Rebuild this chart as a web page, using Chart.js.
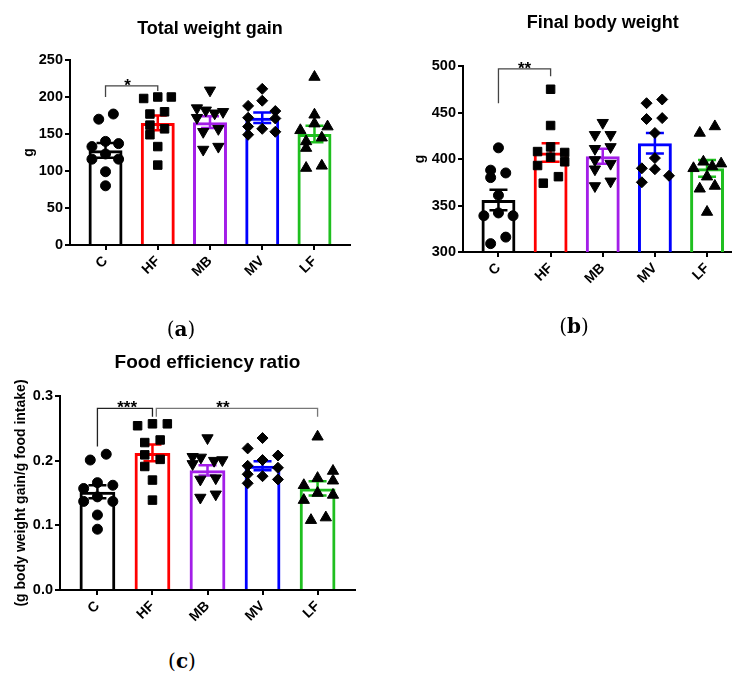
<!DOCTYPE html>
<html>
<head>
<meta charset="utf-8">
<script src="https://cdn.jsdelivr.net/npm/chart.js@4.4.1/dist/chart.umd.min.js"></script>
<style>
  html, body { margin:0; padding:0; background:#fff; overflow:hidden; }
  #page { position:relative; width:732px; height:677px; overflow:hidden; }
  #page canvas { position:absolute; }
  .cap { position:absolute; font-family:"DejaVu Serif", serif; font-size:20px; color:#000; transform:translate(-50%,-50%); white-space:nowrap; }
</style>
</head>
<body>
<div id="page">
  <canvas id="gainChart" width="366" height="300" style="left:0;top:0"></canvas>
  <canvas id="weightChart" width="380" height="300" style="left:370px;top:0"></canvas>
  <canvas id="ferChart" width="366" height="300" style="left:0;top:330px"></canvas>
  <div class="cap" style="left:181px;top:329px">(<b>a</b>)</div>
  <div class="cap" style="left:574px;top:326px">(<b>b</b>)</div>
  <div class="cap" style="left:182px;top:661px">(<b>c</b>)</div>
</div>

<script>
// ---------- groups ----------
const groups = ["C", "HF", "MB", "MV", "LF"];

// ---------- (a) total weight gain, g ----------
const gainTicks = [0, 50, 100, 150, 200, 250];
const gainMean = [128, 165, 166, 172, 150];
const gainSem = [10, 10, 8, 7, 11];
const gainPoints = [
  [170, 177, 133, 140, 137, 123, 116, 116, 99, 80],
  [198, 200, 200, 177, 180, 162, 157, 149, 133, 108],
  [209, 185, 182, 178, 180, 172, 153, 157, 129, 133],
  [211, 195, 188, 181, 172, 171, 160, 157, 149, 153],
  [227, 176, 164, 155, 160, 140, 145, 131, 104, 107]
];
// horizontal spread of the dots, in category units
const gainSpread = [
  [-0.13, 0.15, -0.26, 0, 0.25, 0, -0.26, 0.25, 0, 0],
  [-0.27, 0, 0.26, -0.15, 0.13, -0.15, 0.13, -0.15, 0, 0],
  [0, -0.25, -0.08, 0.09, 0.25, -0.25, -0.13, 0.16, -0.13, 0.16],
  [0, 0, -0.27, 0.25, -0.27, 0.25, -0.27, 0, -0.27, 0.25],
  [0, 0, 0, -0.27, 0.25, -0.16, 0.14, -0.16, -0.16, 0.14]
];
const gainSig = [{from: 0, to: 1, y: 215, yFrom: 200, yTo: 208, text: "*", at: 0.42, color: "#444"}];

// ---------- (b) final body weight, g ----------
const weightTicks = [300, 350, 400, 450, 500];
const weightMean = [356, 407, 403, 417, 390];
const weightSem = [11, 10, 8, 11, 9];
const weightPoints = [
  [412, 388, 380, 385, 361, 342, 339, 339, 316, 309],
  [475, 436, 413, 408, 407, 402, 397, 393, 381, 374],
  [439, 426, 426, 411, 413, 399, 395, 389, 371, 376],
  [460, 464, 443, 444, 428, 401, 390, 389, 382, 375],
  [428, 435, 390, 397, 392, 395, 381, 368, 371, 343]
];
const weightSpread = [
  [0, -0.15, -0.15, 0.14, 0, 0, -0.28, 0.28, 0.14, -0.15],
  [0, 0, 0, -0.25, 0.27, 0, 0.27, -0.25, 0.15, -0.14],
  [0, -0.15, 0.15, -0.15, 0.15, -0.15, 0.15, -0.15, -0.15, 0.15],
  [-0.16, 0.14, -0.16, 0.14, 0, 0, -0.25, 0, 0.27, -0.25],
  [-0.14, 0.15, -0.26, -0.07, 0.1, 0.27, 0, -0.14, 0.15, 0]
];
const weightSig = [{from: 0, to: 1, y: 497, yFrom: 460, yTo: 489, text: "**", at: 0.5, color: "#444"}];

// ---------- (c) food efficiency ratio ----------
const ferTicks = [0, 0.1, 0.2, 0.3];
const ferMean = [0.152, 0.212, 0.185, 0.192, 0.157];
const ferSem = [0.010, 0.013, 0.008, 0.007, 0.011];
const ferPoints = [
  [0.201, 0.210, 0.166, 0.157, 0.162, 0.144, 0.137, 0.137, 0.116, 0.094],
  [0.254, 0.257, 0.257, 0.228, 0.232, 0.209, 0.202, 0.191, 0.170, 0.139],
  [0.235, 0.206, 0.205, 0.200, 0.201, 0.195, 0.171, 0.173, 0.143, 0.148],
  [0.235, 0.219, 0.208, 0.201, 0.192, 0.189, 0.179, 0.176, 0.171, 0.165],
  [0.237, 0.184, 0.173, 0.169, 0.162, 0.150, 0.147, 0.139, 0.108, 0.112]
];
const ferSpread = [
  [-0.13, 0.16, 0, -0.25, 0.28, 0, -0.25, 0.28, 0, 0],
  [-0.27, 0, 0.27, -0.14, 0.14, -0.14, 0.14, -0.14, 0, 0],
  [0, -0.27, -0.12, 0.12, 0.27, -0.27, -0.13, 0.15, -0.13, 0.15],
  [0, -0.27, 0.28, 0, -0.27, 0.28, -0.27, 0, 0.28, -0.27],
  [0, 0.28, 0, 0.28, -0.25, 0, 0.28, -0.25, -0.12, 0.15]
];
const ferSig = [
  {from: 0, to: 1, y: 0.281, yFrom: 0.222, yTo: 0.268, text: "***", at: 0.54, color: "#222"},
  {from: 1.07, to: 4, y: 0.281, yFrom: 0.268, yTo: 0.268, text: "**", at: 2.28, color: "#777"}
];

// ---------- look ----------
const barColors = ["#000000", "#ff0000", "#a31ee8", "#0000ff", "#1fbf1f"];
const markStyle = ["circle", "rect", "triangle", "rectRot", "triangle"];
const markTurn = [0, 0, 180, 0, 0];
const markSize = [5, 6, 6.5, 5.5, 6.5];

Chart.defaults.font.family = "'Liberation Sans', Arial, sans-serif";
Chart.defaults.color = "#000";

// SEM bars, drawn right after the bars so the dots sit on top
const errorBars = {
  id: "errorBars",
  afterDatasetDraw(chart, args) {
    const ds = chart.data.datasets[args.index];
    if (!ds.sem) return;
    const y = chart.scales.y;
    const ctx = chart.ctx;
    ctx.save();
    ctx.lineWidth = 2.5;
    args.meta.data.forEach((bar, i) => {
      const m = ds.data[i].y;
      const top = y.getPixelForValue(m + ds.sem[i]);
      const bot = y.getPixelForValue(m - ds.sem[i]);
      ctx.strokeStyle = barColors[i];
      ctx.beginPath();
      ctx.moveTo(bar.x, top); ctx.lineTo(bar.x, bot);
      ctx.moveTo(bar.x - 9, top); ctx.lineTo(bar.x + 9, top);
      ctx.moveTo(bar.x - 9, bot); ctx.lineTo(bar.x + 9, bot);
      ctx.stroke();
    });
    ctx.restore();
  }
};

// significance brackets with stars (one plugin per chart, marks kept in the closure)
function sigBrackets(marks) {
  return {
    id: "sigBrackets",
    afterDraw(chart) {
      const x = chart.scales.x, y = chart.scales.y, ctx = chart.ctx;
      marks.forEach(s => {
        const x1 = x.getPixelForValue(s.from);
        const x2 = x.getPixelForValue(s.to);
        const yl = y.getPixelForValue(s.y);
        ctx.save();
        ctx.strokeStyle = s.color;
        ctx.lineWidth = 1.3;
        ctx.beginPath();
        ctx.moveTo(x1, y.getPixelForValue(s.yFrom));
        ctx.lineTo(x1, yl);
        ctx.lineTo(x2, yl);
        ctx.lineTo(x2, y.getPixelForValue(s.yTo));
        ctx.stroke();
        ctx.fillStyle = "#000";
        ctx.font = "bold 17px 'Liberation Sans', Arial, sans-serif";
        ctx.textAlign = "center";
        ctx.textBaseline = "alphabetic";
        ctx.fillText(s.text, x.getPixelForValue(s.at), yl + 5);
        ctx.restore();
      });
    }
  };
}

function makeChart(id, c) {
  const datasets = [{
    type: "bar",
    data: c.mean.map((m, i) => ({x: i, y: m})),
    sem: c.sem,
    backgroundColor: "rgba(255,255,255,0)",
    borderColor: barColors,
    borderWidth: 3,
    categoryPercentage: 1,
    barPercentage: 0.65,
    order: 10
  }];
  c.points.forEach((vals, g) => {
    datasets.push({
      type: "scatter",
      data: vals.map((v, k) => ({x: g + c.spread[g][k], y: v})),
      pointStyle: markStyle[g],
      rotation: markTurn[g],
      radius: markSize[g],
      backgroundColor: "#000",
      borderColor: "#000",
      borderWidth: 1,
      order: 0
    });
  });

  return new Chart(document.getElementById(id), {
    type: "bar",
    data: {datasets},
    plugins: [errorBars, sigBrackets(c.sig)],
    options: {
      responsive: false,
      animation: false,
      events: [],
      layout: {padding: {left: 0, top: 0, bottom: 0, right: c.padRight}},
      plugins: {
        legend: {display: false},
        tooltip: {enabled: false},
        title: {
          display: true,
          text: c.title,
          fullSize: false,
          color: "#000",
          font: {size: c.titleSize, weight: "bold"},
          padding: {top: c.titleTop, bottom: c.titleBottom}
        }
      },
      scales: {
        x: {
          type: "linear",
          min: -0.68,
          max: 4.68,
          offset: false,
          afterFit: s => { s.height = c.xHeight; },
          afterBuildTicks: s => { s.ticks = groups.map((g, i) => ({value: i})); },
          ticks: {
            color: "#000",
            font: {size: 14, weight: "bold"},
            minRotation: 45,
            maxRotation: 45,
            autoSkip: false,
            padding: 3,
            callback: v => groups[v]
          },
          grid: {drawOnChartArea: false, color: "#000", lineWidth: 2, tickLength: 5, offset: false},
          border: {color: "#000", width: 2}
        },
        y: {
          min: c.ticks[0],
          max: c.ticks[c.ticks.length - 1],
          afterFit: s => { s.width = c.yWidth; },
          afterBuildTicks: s => { s.ticks = c.ticks.map(v => ({value: v})); },
          ticks: {
            color: "#000",
            font: {size: 14.5, weight: "bold"},
            padding: 2,
            callback: v => v.toFixed(c.decimals)
          },
          grid: {drawOnChartArea: false, color: "#000", lineWidth: 2, tickLength: 5},
          border: {color: "#000", width: 2},
          title: {
            display: true,
            text: c.yTitle,
            color: "#000",
            font: {size: 14, weight: "bold"},
            padding: {top: c.yTitlePad, bottom: 0}
          }
        }
      }
    }
  });
}

makeChart("gainChart", {
  title: "Total weight gain", titleSize: 18, titleTop: 18, titleBottom: 20.4,
  yTitle: "g", yTitlePad: 20.6, yWidth: 70, xHeight: 55, padRight: 16,
  ticks: gainTicks, decimals: 0,
  mean: gainMean, sem: gainSem, points: gainPoints, spread: gainSpread, sig: gainSig
});

makeChart("weightChart", {
  title: "Final body weight", titleSize: 18, titleTop: 12.2, titleBottom: 32.2,
  yTitle: "g", yTitlePad: 41.6, yWidth: 93, xHeight: 48, padRight: 7,
  ticks: weightTicks, decimals: 0,
  mean: weightMean, sem: weightSem, points: weightPoints, spread: weightSpread, sig: weightSig
});

makeChart("ferChart", {
  title: "Food efficiency ratio", titleSize: 19, titleTop: 21.6, titleBottom: 21.6,
  yTitle: "(g body weight gain/g food intake)", yTitlePad: 12.6, yWidth: 60, xHeight: 40, padRight: 11,
  ticks: ferTicks, decimals: 1,
  mean: ferMean, sem: ferSem, points: ferPoints, spread: ferSpread, sig: ferSig
});
</script>
</body>
</html>
